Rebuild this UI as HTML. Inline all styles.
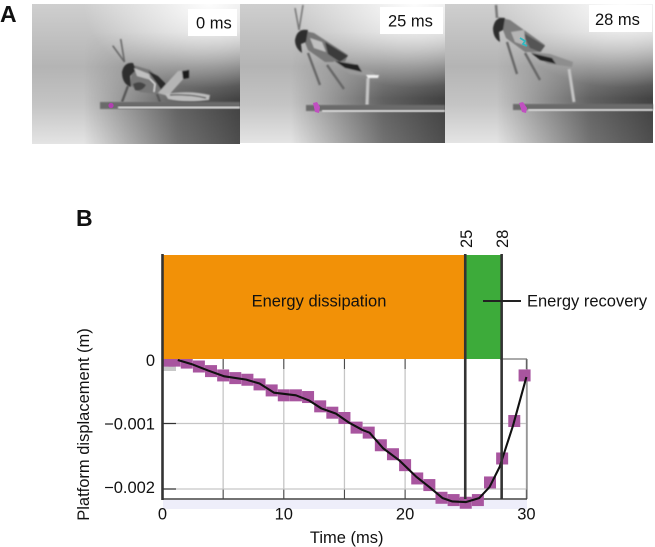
<!DOCTYPE html>
<html lang="en">
<head>
<meta charset="utf-8">
<title>Platform displacement during jump</title>
<style>
html,body{margin:0;padding:0;background:#fff;width:655px;height:547px;overflow:hidden}
svg{display:block}
text{font-family:"Liberation Sans",sans-serif;fill:#111}
</style>
</head>
<body>
<svg id="figure" xmlns="http://www.w3.org/2000/svg" width="655" height="547" viewBox="0 0 655 547">
<defs>
<linearGradient id="base" x1="0" y1="0" x2="0" y2="1">
<stop offset="0" stop-color="#cfcfcf"/><stop offset="0.45" stop-color="#b4b4b4"/><stop offset="0.72" stop-color="#c4c4c4"/><stop offset="1" stop-color="#e4e4e4"/>
</linearGradient>
<linearGradient id="shade" x1="0" y1="0" x2="1" y2="0">
<stop offset="0.25" stop-color="#000" stop-opacity="0"/><stop offset="0.7" stop-color="#000" stop-opacity="0.5"/><stop offset="1" stop-color="#000" stop-opacity="0.66"/>
</linearGradient>
<linearGradient id="fadeMask" x1="0" y1="0" x2="0" y2="1">
<stop offset="0.2" stop-color="#000"/><stop offset="0.68" stop-color="#fff"/>
</linearGradient>
<mask id="m1" maskContentUnits="objectBoundingBox"><rect width="1" height="1" fill="url(#fadeMask)"/></mask>
<radialGradient id="glow" cx="0.85" cy="0" r="0.6">
<stop offset="0" stop-color="#fff" stop-opacity="0.95"/><stop offset="1" stop-color="#fff" stop-opacity="0"/>
</radialGradient>
<filter id="soft"><feGaussianBlur stdDeviation="0.8"/></filter>
</defs>

<g id="photos">
<g>
<rect x="32" y="4" width="208" height="140" fill="url(#base)"/>
<rect x="32" y="4" width="208" height="140" fill="url(#shade)" mask="url(#m1)"/>
<rect x="32" y="4" width="208" height="140" fill="url(#glow)"/>
<g filter="url(#soft)">
<path d="M124.500 62L112.700 45.700M124.500 62L120.700 39" stroke="#666" stroke-width="1.6" fill="none"/>
<path d="M128 86L122 102M153 83L160 102" stroke="#555" stroke-width="2.4" fill="none"/>
<path d="M133 65L150 70L172 90L165 95L140 92L130 85Z" fill="#777"/>
<path d="M122 72Q124 62 133 63L136 70L130 76L131 87Q122 84 122 72Z" fill="#2e2e2e"/>
<path d="M148 71L158 76L172 90L164 94L156 82Z" fill="#2a2a2a"/>
<path d="M134 68L149 74L151 80L137 76Z" fill="#c0c0c0"/>
<path d="M133 84Q140 80 146 85Q142 92 135 90Z" fill="#444"/>
<path d="M150 79L155 84L154 92" stroke="#ddd" stroke-width="1.4" fill="none"/>
<path d="M158 93L178 71L188 70L184 78L168 96Z" fill="#b5b5b5"/>
<path d="M182 71L189 70L189 78L183 79Z" fill="#1e1e1e"/>
<path d="M165 94Q190 90 210 95L209 100Q185 103 168 99Z" fill="#bdbdbd"/>
<path d="M170 95Q190 94 206 98" stroke="#444" stroke-width="1.2" fill="none"/>
</g>
<rect x="100" y="102" width="140" height="7" fill="#6a6a6a" filter="url(#soft)"/>
<rect x="118" y="106.500" width="122" height="2" fill="#ddd" filter="url(#soft)"/>
<circle cx="111" cy="105.500" r="2.600" fill="#b040b0"/>
<rect x="188" y="9" width="49" height="27" fill="#fff"/>
<text x="196" y="28.500" font-size="16.500">0 ms</text>
</g>

<g>
<rect x="240" y="4" width="205" height="139" fill="url(#base)"/>
<rect x="240" y="4" width="205" height="139" fill="url(#shade)" mask="url(#m1)"/>
<rect x="240" y="4" width="205" height="139" fill="url(#glow)"/>
<g filter="url(#soft)">
<path d="M299 30L295 8M299 30L303 5" stroke="#777" stroke-width="1.6" fill="none"/>
<path d="M308 53L320 85M327 65L344 89" stroke="#666" stroke-width="2.4" fill="none"/>
<path d="M300 30L314 33L348 55L345 62L325 62L308 50Z" fill="#777"/>
<path d="M295 40Q297 28 308 30L306 42L301 44L302 53Q295 48 295 40Z" fill="#2e2e2e"/>
<path d="M325 42L348 56L340 62L328 54Z" fill="#3a3a3a"/>
<path d="M310 38L322 42L326 52L314 48Z" fill="#c0c0c0"/>
<path d="M333 61L350 62L373 72L376 76L350 74Z" fill="#9a9a9a"/>
<path d="M335 61L358 65L362 72L345 68Z" fill="#222"/>
<path d="M366 75L379 75L378 78L368 78Z" fill="#eee"/>
<path d="M368 78L367 105" stroke="#c4c4c4" stroke-width="3.2" fill="none"/>
</g>
<rect x="306" y="105" width="139" height="6" fill="#6a6a6a" filter="url(#soft)"/>
<rect x="322" y="110" width="123" height="2" fill="#ddd" filter="url(#soft)"/>
<path d="M313 103L317 102L320 107L319 113L315 112Z" fill="#c050c0"/>
<rect x="380" y="7" width="63" height="27" fill="#fff"/>
<text x="388" y="26.500" font-size="16.500">25 ms</text>
</g>

<g>
<rect x="445" y="4" width="208" height="139" fill="url(#base)"/>
<rect x="445" y="4" width="208" height="139" fill="url(#shade)" mask="url(#m1)"/>
<rect x="445" y="4" width="208" height="139" fill="url(#glow)"/>
<g filter="url(#soft)">
<path d="M497 18L496 5" stroke="#777" stroke-width="2.500" fill="none"/>
<path d="M507 42L517 74M525 53L540 80" stroke="#666" stroke-width="2.400" fill="none"/>
<path d="M498 17L510 20L545 45L541 52L525 52L506 38Z" fill="#7d7d7d"/>
<path d="M493 28Q495 16 505 18L503 30L499 32L500 42Q493 38 493 28Z" fill="#2e2e2e"/>
<path d="M522 32L545 46L540 52L530 48Z" fill="#555"/>
<path d="M511 32L524 30L526 46L515 42Z" fill="#b5b5b5"/>
<path d="M530 52L550 54L573 62L572 67L548 64Z" fill="#8e8e8e"/>
<path d="M531 53L552 58L556 64L540 60Z" fill="#222"/>
<path d="M569 69L574 102" stroke="#c4c4c4" stroke-width="3" fill="none"/>
</g>
<path d="M520 38L525 41L523 44L527 46" stroke="#30b8c0" stroke-width="1.800" fill="none"/>
<rect x="513" y="104" width="140" height="6" fill="#6a6a6a" filter="url(#soft)"/>
<rect x="528" y="109" width="125" height="2" fill="#ddd" filter="url(#soft)"/>
<path d="M519 103L523 102L527 108L526 113L522 112Z" fill="#c050c0"/>
<rect x="589" y="5" width="63" height="27" fill="#fff"/>
<text x="595" y="25" font-size="16.500">28 ms</text>
</g>
</g>

<text x="0" y="22" font-size="23" font-weight="bold">A</text>
<text x="76" y="226" font-size="23" font-weight="bold">B</text>

<g id="chart"></g>
</svg>

<script>
const sampleTimes = [0.5, 1, 2, 3, 4, 5, 6, 7, 8, 9, 10, 11, 12, 13, 14, 15, 16, 17, 18, 19, 20, 21, 22, 23, 24, 25, 26, 27, 28, 29, 29.85];
const sampleValues = [-0.00004, -0.00004, -0.00007, -0.00013, -0.0002, -0.000266, -0.000307, -0.000332, -0.000403, -0.000495, -0.00057, -0.00057, -0.000596, -0.000738, -0.000835, -0.000916, -0.001063, -0.001139, -0.001332, -0.001469, -0.001636, -0.001839, -0.00194, -0.002134, -0.002169, -0.00221, -0.002169, -0.0019, -0.001534, -0.000962, -0.000266];
const lineTimes = [1.26, 2.5, 3.74, 5.1, 6.9, 8, 9.2, 11, 12.1, 13.1, 14.3, 15.4, 16.5, 17.07, 18.2, 19.5, 20.9, 22, 23.1, 23.9, 25, 26.1, 26.96, 27.8, 28.9, 30];
const lineValues = [-0.00003, -0.0001, -0.00019, -0.00028, -0.00033, -0.00039, -0.00053, -0.00057, -0.00065, -0.00077, -0.00085, -0.00099, -0.0011, -0.00114, -0.00138, -0.00156, -0.00181, -0.00197, -0.00214, -0.00219, -0.0022, -0.00214, -0.00197, -0.00166, -0.00103, -0.00029];
const xTicks = [0, 10, 20, 30];
const xGrid = [5, 10, 15, 20, 25, 30];
const yTicks = [0, -0.001, -0.002];
const yTickLabels = ["0", "\u22120.001", "\u22120.002"];
const phaseStarts = [0, 25];
const phaseEnds = [25, 28];
const phaseColors = ["#f29107", "#3dab3a"];
const markerTimes = [25, 28];

const xScale = t => 162.5 + t * 12.13;
const yScale = v => 358 - v * 65500;
const yLabelScale = v => 366 - v * 63500;
const plotBottom = 499, plotTop = 359, bandTop = 255;
const labelSize = 16.5;
const chartRoot = document.getElementById('chart');
const NS = 'http://www.w3.org/2000/svg';
function make(tag, attrs, parent) {
  const el = document.createElementNS(NS, tag);
  for (const k in attrs) el.setAttribute(k, attrs[k]);
  (parent || chartRoot).appendChild(el);
  return el;
}

// lavender strip beneath the plot
const strip = make('rect', {x: 163, y: plotBottom + 1, width: 364, height: 9, fill: '#eeeefa'});



// grid
xGrid.forEach(t => {
  const g = make('line', {x1: xScale(t), x2: xScale(t), y1: plotTop, y2: plotBottom, stroke: '#c6c6c6', 'stroke-width': 1.3});
  
  
  const a = make('line', {x1: xScale(t), x2: xScale(t), y1: plotTop, y2: plotTop + 10, stroke: '#444', 'stroke-width': 1});
  
  
  const b = make('line', {x1: xScale(t), x2: xScale(t), y1: plotBottom - 10, y2: plotBottom, stroke: '#444', 'stroke-width': 1});
  
  
});
yTicks.slice(1).forEach(v => {
  const g = make('line', {x1: 163, x2: 527, y1: yScale(v), y2: yScale(v), stroke: '#c6c6c6', 'stroke-width': 1.3});
  
  
  const a = make('line', {x1: 163, x2: 176, y1: yScale(v), y2: yScale(v), stroke: '#333', 'stroke-width': 1.2});
  
  
});

// frame
const rightSpine = make('line', {x1: 527, x2: 527, y1: plotTop, y2: plotBottom, stroke: '#777', 'stroke-width': 1.2});


const topSpine = make('line', {x1: 500, x2: 527, y1: plotTop, y2: plotTop, stroke: '#777', 'stroke-width': 1.2});


const xAxis = make('line', {x1: 162, x2: 527, y1: plotBottom, y2: plotBottom, stroke: '#444', 'stroke-width': 1.4});



// pale square behind the first sample
const ghost = make('rect', {x: 163, y: 364, width: 13, height: 7, fill: '#c8c8c8'});



// samples
sampleTimes.forEach((t, i) => {
  const r = make('rect', {x: xScale(t) - 6, y: yScale(sampleValues[i]) - 6, width: 12, height: 12, fill: '#a8559f'});
  
  
});

// fitted line
const path = make('polyline', {
  points: lineTimes.map((t, i) => xScale(t) + ',' + yScale(lineValues[i])).join(' '),
  fill: 'none', stroke: '#111', 'stroke-width': 2.1, 'stroke-linejoin': 'round'
});



// phase bands
phaseStarts.forEach((s, i) => {
  const r = make('rect', {x: xScale(s), y: bandTop, width: xScale(phaseEnds[i]) - xScale(s), height: plotTop - bandTop, fill: phaseColors[i]});
  
  
});

// heavy verticals
const yAxis = make('line', {x1: 162.5, x2: 162.5, y1: bandTop - 1, y2: plotBottom + 1, stroke: '#333', 'stroke-width': 2.6});


markerTimes.forEach(t => {
  const l = make('line', {x1: xScale(t) - 0.5, x2: xScale(t) - 0.5, y1: bandTop - 1, y2: plotBottom, stroke: '#333', 'stroke-width': 2.6});
  
  
  const lab = make('text', {transform: 'translate(' + (xScale(t) + 6) + ',248) rotate(-90)', 'font-size': labelSize});
  lab.textContent = String(t);
  
  
});

// tick labels
xTicks.forEach(t => {
  const lab = make('text', {x: xScale(t), y: 519.5, 'text-anchor': 'middle', 'font-size': labelSize});
  lab.textContent = String(t);
  
  
});
yTicks.forEach((v, i) => {
  const lab = make('text', {x: 155, y: yLabelScale(v), 'text-anchor': 'end', 'font-size': labelSize});
  lab.textContent = yTickLabels[i];
  
  
});

// annotations
const diss = make('text', {x: 319, y: 306.5, 'text-anchor': 'middle', 'font-size': labelSize});
diss.textContent = 'Energy dissipation';


const rec = make('text', {x: 527, y: 306.5, 'font-size': labelSize});
rec.textContent = 'Energy recovery';


const leader = make('line', {x1: 483, x2: 521, y1: 301, y2: 301, stroke: '#222', 'stroke-width': 2});


const xTitle = make('text', {x: 346.7, y: 543, 'text-anchor': 'middle', 'font-size': labelSize});
xTitle.textContent = 'Time (ms)';


const yTitle = make('text', {transform: 'translate(89,424.5) rotate(-90)', 'text-anchor': 'middle', 'font-size': labelSize});
yTitle.textContent = 'Platform displacement (m)';


</script>
</body>
</html>
